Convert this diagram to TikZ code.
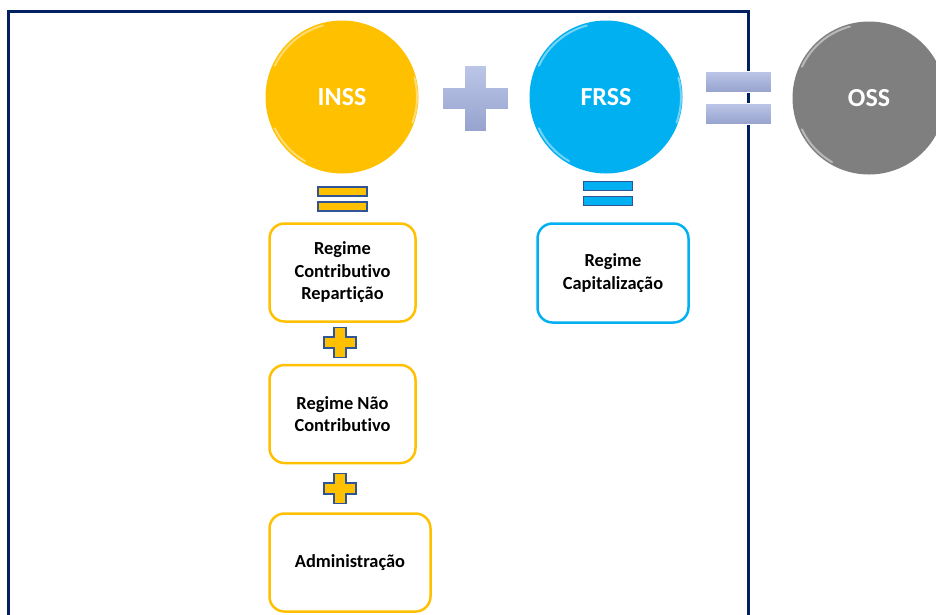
\documentclass[tikz,border=0pt]{standalone}
\usepackage{fontspec}
\setmainfont{Carlito}[Ligatures={NoCommon}]
\usetikzlibrary{positioning}

\definecolor{inssgold}{HTML}{FFC000}
\definecolor{frssblue}{HTML}{00B0F0}
\definecolor{ossgray}{HTML}{7F7F7F}
\definecolor{framenavy}{HTML}{002060}
\definecolor{symedge}{HTML}{2F5597}
\definecolor{opTop}{HTML}{BCC6E8}
\definecolor{opBot}{HTML}{97A3CE}

\tikzset{
  ball/.style={circle, minimum size=153pt, inner sep=0pt, text=white,
    font=\bfseries\fontsize{26}{30}\selectfont},
  regbox/.style={draw, rounded corners=15pt, line width=2.5pt, fill=white,
    minimum width=146pt, minimum height=98pt, align=center, inner sep=2pt,
    font=\bfseries\fontsize{18.4}{22.5}\selectfont},
  gloss/.style={white, opacity=0.45, line width=2pt, line cap=round},
  symline/.style={draw=symedge, line width=1.8pt, line join=miter},
  opfill/.style={top color=opTop, bottom color=opBot, draw=white, line width=0.8pt},
  pics/bigplus/.style={code={
    \shade[opfill] (-11,-33) -- (11,-33) -- (11,-11) -- (33,-11) -- (33,11)
      -- (11,11) -- (11,33) -- (-11,33) -- (-11,11) -- (-33,11) -- (-33,-11)
      -- (-11,-11) -- cycle;
  }},
  pics/bigeq/.style={code={
    \shade[opfill] (-33,-26.5) rectangle (33,-5.5);
    \shade[opfill] (-33,5.5) rectangle (33,26.5);
  }},
  pics/smallplus/.style={code={
    \path[symline, fill=inssgold] (-6,-15) -- (6,-15) -- (6,-5.5) -- (16,-5.5)
      -- (16,5.5) -- (6,5.5) -- (6,15) -- (-6,15) -- (-6,5.5) -- (-16,5.5)
      -- (-16,-5.5) -- (-6,-5.5) -- cycle;
  }},
  pics/smalleq/.style={code={
    \path[symline, fill=#1] (-24.5,-12) rectangle (24.5,-3);
    \path[symline, fill=#1] (-24.5,3) rectangle (24.5,12);
  }}
}

\begin{document}
\begin{tikzpicture}[x=1pt, y=-1pt]
  \clip (0,0) rectangle (936,614);

  % outer frame
  \draw[framenavy, line width=3pt] (8,620) -- (8,11) -- (748,11) -- (748,620);

  % the three balls
  \node[ball, fill=inssgold] (inss) at (342,97) {INSS};
  \node[ball, fill=frssblue] (frss) at (606,97) {FRSS};
  \node[ball, fill=ossgray] (oss) at (869,98) {OSS};

  \foreach \b in {inss, frss, oss} {
    \draw[gloss] (\b.center) ++(-155:74) arc[start angle=-155, end angle=-105, radius=74];
    \draw[gloss] (\b.center) ++(-205:74) arc[start angle=-205, end angle=-240, radius=74];
    \draw[gloss] (\b.center) ++(-15:75) arc[start angle=-15, end angle=20, radius=75];
  }

  \pic at (475,98) {bigplus};
  \pic at (738,97.5) {bigeq};

  % INSS column
  \pic at (342.5,199) {smalleq=inssgold};
  \node[regbox, draw=inssgold] (regA) at (342.5,272.5) {Regime\\Contributivo\\Repartição};
  \pic at (340,342.5) {smallplus};
  \node[regbox, draw=inssgold, below=41pt of regA] (regB) {Regime Não\\Contributivo};
  \pic at (340,488.5) {smallplus};
  \node[regbox, draw=inssgold, minimum width=161pt] (regC) at (350,562.5) {Administração};

  % FRSS column
  \pic at (608,193.5) {smalleq=frssblue};
  \node[regbox, draw=frssblue, minimum width=151pt, minimum height=99pt] (regD)
    at (613,273) {Regime\\Capitalização};
\end{tikzpicture}
\end{document}
